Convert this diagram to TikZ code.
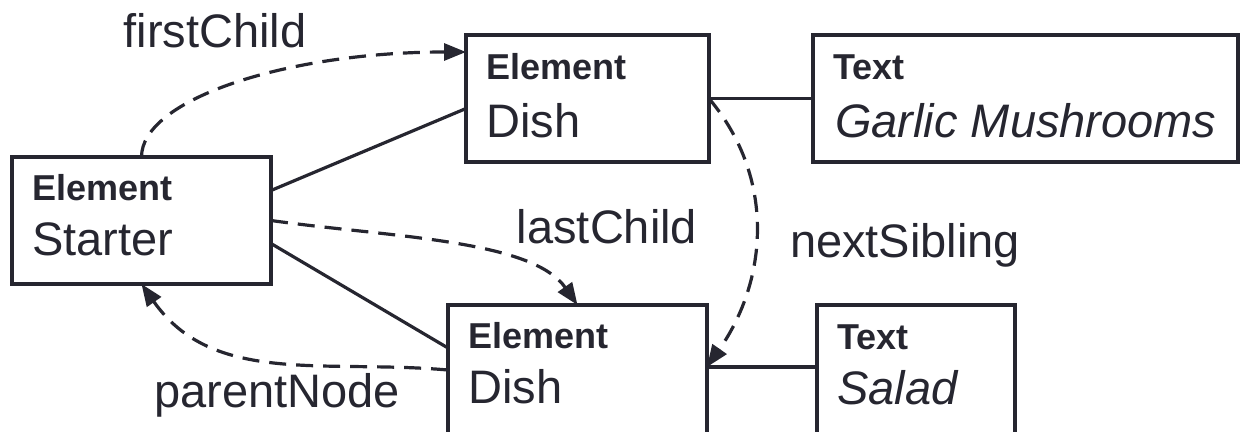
\documentclass[tikz,border=0pt]{standalone}
\usepackage{fontspec}
\setmainfont{Liberation Sans}
\usetikzlibrary{positioning,arrows.meta}

\definecolor{ink}{RGB}{38,38,48}

\tikzset{
    box/.style={draw=ink, line width=3.2pt, rectangle, inner sep=0pt, outer sep=0pt, minimum height=127pt},
    kind/.style={anchor=base west, inner sep=0pt, text=ink, font=\fontsize{36}{40}\selectfont\bfseries},
    value/.style={anchor=base west, inner sep=0pt, text=ink, font=\fontsize{47}{54}\selectfont},
    link/.style={draw=ink, line width=3.2pt},
    ptr/.style={draw=ink, line width=3.2pt, dash pattern=on 17pt off 10pt, -{Triangle[length=22pt,width=17pt]}},
    ptrlabel/.style={anchor=base, inner sep=0pt, text=ink, font=\fontsize{47}{54}\selectfont}
}

\begin{document}
\begin{tikzpicture}[x=1pt, y=-1pt]
    \useasboundingbox (0,0) rectangle (1241,431);

    % riquadri
    \node[box, anchor=north west, minimum width=259pt] (starter) at (12,157) {};
    \node[box, anchor=north west, minimum width=243pt] (dish1) at (466,35) {};
    \node[box, right=104pt of dish1, minimum width=425pt] (garlic) {};
    \node[box, anchor=north west, minimum width=259pt, minimum height=130pt] (dish2) at (448,305) {};
    \node[box, right=110pt of dish2, minimum width=198pt, minimum height=130pt] (salad) {};

    % testi nei riquadri
    \node[kind] (starter-k) at ([shift={(20pt,-43pt)}]starter.north west) {Element};
    \node[value] (starter-v) at ([shift={(20pt,-98pt)}]starter.north west) {Starter};
    \node[kind] (dish1-k) at ([shift={(20pt,-44pt)}]dish1.north west) {Element};
    \node[value] (dish1-v) at ([shift={(20pt,-102pt)}]dish1.north west) {Dish};
    \node[kind] (garlic-k) at ([shift={(20pt,-44pt)}]garlic.north west) {Text};
    \node[value, font=\fontsize{47}{54}\selectfont\itshape] (garlic-v) at ([shift={(22pt,-102pt)}]garlic.north west) {Garlic Mushrooms};
    \node[kind] (dish2-k) at ([shift={(20pt,-43pt)}]dish2.north west) {Element};
    \node[value] (dish2-v) at ([shift={(20pt,-98pt)}]dish2.north west) {Dish};
    \node[kind] (salad-k) at ([shift={(20pt,-44pt)}]salad.north west) {Text};
    \node[value, font=\fontsize{47}{54}\selectfont\itshape] (salad-v) at ([shift={(20pt,-99pt)}]salad.north west) {Salad};

    % collegamenti
    \draw[link] ([yshift=30pt]starter.east) -- ([yshift=-10pt]dish1.west);
    \draw[link] ([yshift=-23pt]starter.east) -- ([yshift=22pt]dish2.west);
    \draw[link] (dish1.east) -- (garlic.west);
    \draw[link] ([yshift=3pt]dish2.east) -- ([yshift=3pt]salad.west);

    % puntatori
    \draw[ptr] (starter.north) to[out=90, in=180, out distance=58pt, in distance=178pt] ([yshift=-17pt]dish1.north west);
    \draw[ptr] (starter.east) to[out=-8, in=125, out distance=120pt, in distance=80pt] (dish2.north);
    \draw[ptr] (dish1.east) to[out=-50, in=55] ([yshift=3pt]dish2.east);
    \draw[ptr] (dish2.west) to[out=175, in=-55] (starter.south);

    \node[ptrlabel] (first-lbl) at (215,47) {firstChild};
    \node[ptrlabel] (last-lbl) at (607,243) {lastChild};
    \node[ptrlabel] (next-lbl) at (905,257) {nextSibling};
    \node[ptrlabel] (parent-lbl) at (277,407) {parentNode};
\end{tikzpicture}
\end{document}
